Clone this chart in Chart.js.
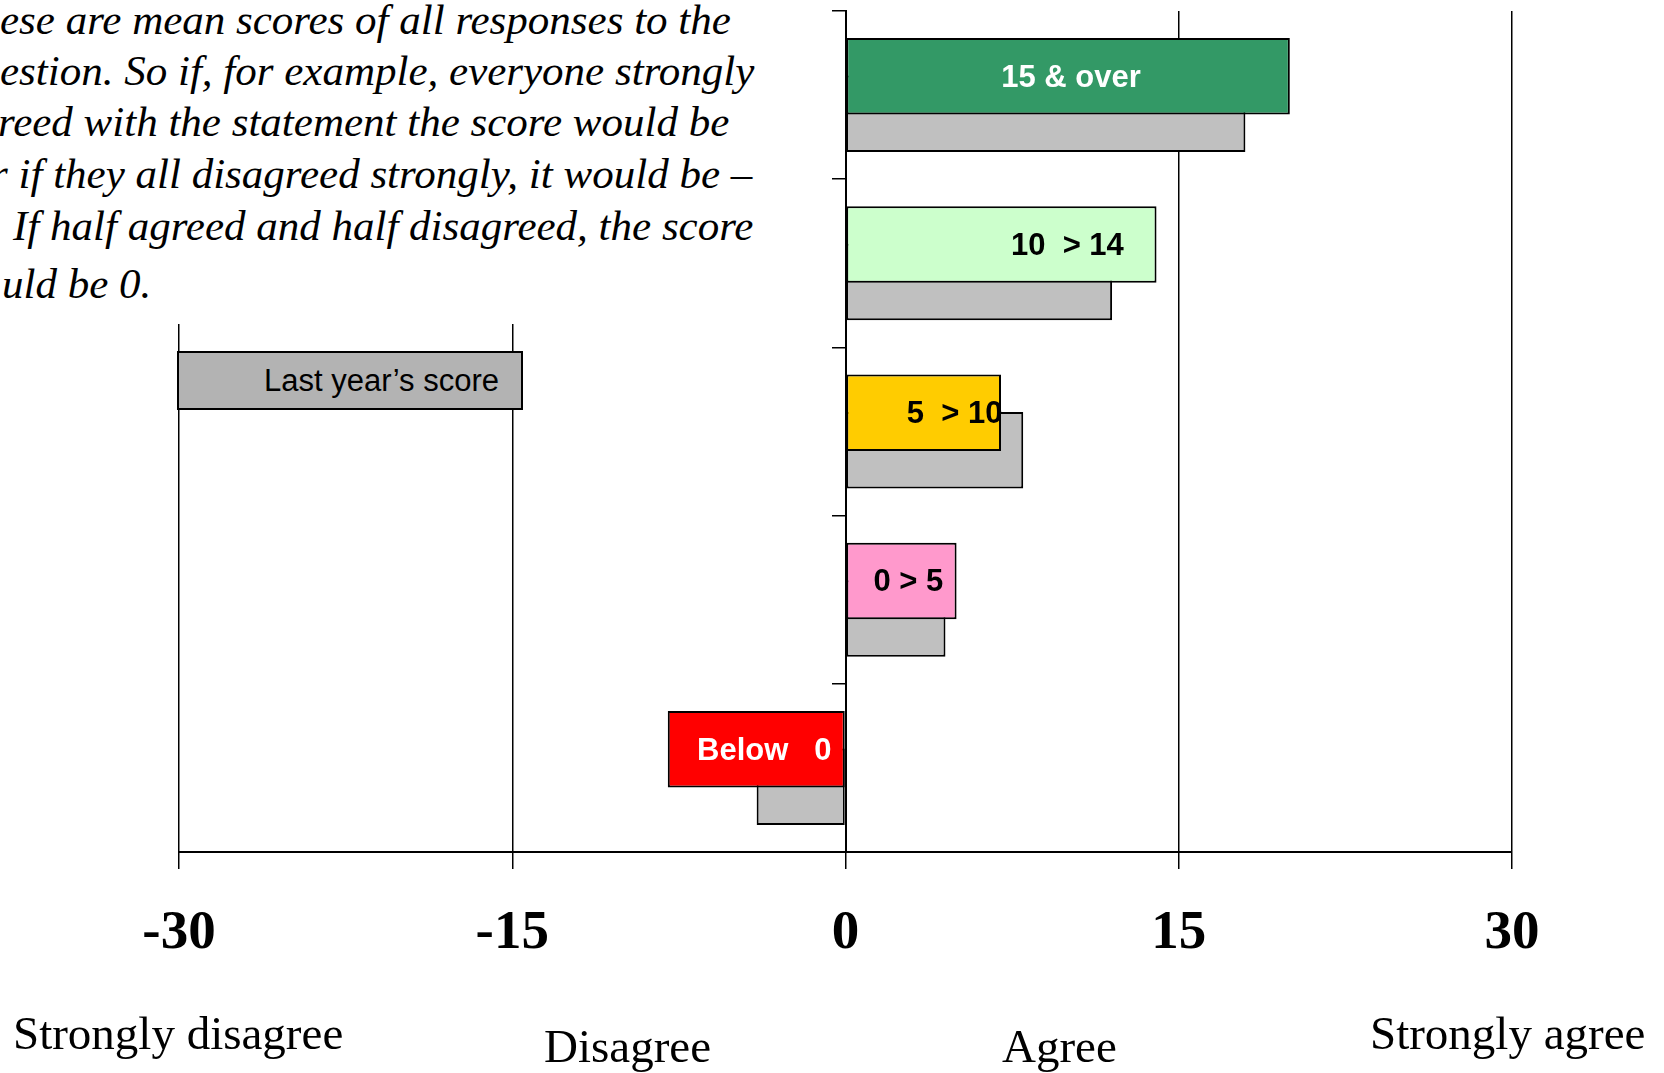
<!DOCTYPE html>
<html>
<head>
<meta charset="utf-8">
<title>Mean scores</title>
<script src="https://cdn.jsdelivr.net/npm/chart.js@4.4.1/dist/chart.umd.min.js"></script>
<style>
  body { margin: 0; background: #fff; }
  #wrap { position: relative; width: 1664px; height: 1073px; overflow: hidden; }
  #chart { position: absolute; left: 0; top: 0; }
  .note { position: absolute; left: 0; top: 0; width: 790px; height: 324px; background: #fff; overflow: hidden;
          font: italic 43px "Liberation Serif", "Times New Roman", serif; }
  .note div { position: absolute; white-space: pre; line-height: 1; }
  .legend { position: absolute; left: 177px; top: 351px; width: 346px; height: 59px; box-sizing: border-box;
            background: #b3b3b3; border: 2px solid #000; text-align: right; padding-right: 22px;
            font: 31px "Liberation Sans", Arial, sans-serif; line-height: 55px; }
  .word { position: absolute; white-space: pre; font: 47px "Liberation Serif", "Times New Roman", serif; line-height: 1; }
</style>
</head>
<body>
<div id="wrap">
  <canvas id="chart" width="1664" height="1073"></canvas>
  <div class="note" id="note"></div>
  <div class="legend" id="legend"></div>
</div>
<script>
// Chart data
const categories = ['15 & over', '10  > 14', '5  > 10', '0 > 5', 'Below   0'];
const thisYear = [20, 14, 7, 5, -8];
const lastYear = [18, 12, 8, 4.5, -4];
const lastYearLabel = 'Last year\u2019s score';
const scaleWords = ['Strongly disagree', 'Disagree', 'Agree', 'Strongly agree'];
const noteLines = [
  'ese are mean scores of all responses to the',
  'estion. So if, for example, everyone strongly',
  'reed with the statement the score would be',
  'r if they all disagreed strongly, it would be \u2013',
  'If half agreed and half disagreed, the score',
  'uld be 0.'
];

// Styles
const barColors = ['#339966', '#ccffcc', '#ffcc00', '#ff99cc', '#ff0000'];
const labelColors = ['#fff', '#000', '#000', '#000', '#fff'];
const labelShift = [3, 66, 31, 7, 8];
const notePos = [[0, -2], [0, 49], [-2, 100], [-9, 152], [13, 204], [2, 262]];
const wordPos = [[13, 1010], [544, 1023], [1002, 1023], [1370, 1010]];

// Text overlays
const note = document.getElementById('note');
noteLines.forEach((line, i) => {
  const d = document.createElement('div');
  d.textContent = line;
  d.style.left = notePos[i][0] + 'px';
  d.style.top = notePos[i][1] + 'px';
  note.appendChild(d);
});
document.getElementById('legend').textContent = lastYearLabel;
const wrap = document.getElementById('wrap');
scaleWords.forEach((w, i) => {
  const d = document.createElement('div');
  d.className = 'word';
  d.textContent = w;
  d.style.left = wordPos[i][0] + 'px';
  d.style.top = wordPos[i][1] + 'px';
  wrap.appendChild(d);
});

// Category names written inside the coloured bars
const barLabels = {
  id: 'barLabels',
  afterDatasetsDraw(chart) {
    const meta = chart.getDatasetMeta(0);
    const c = chart.ctx;
    c.save();
    c.font = 'bold 31px "Liberation Sans", Arial, sans-serif';
    c.textAlign = 'center';
    c.textBaseline = 'middle';
    meta.data.forEach((bar, i) => {
      c.fillStyle = labelColors[i];
      c.fillText(categories[i], (bar.x + bar.base) / 2 + labelShift[i], bar.y + 2);
    });
    c.restore();
  }
};

const ctx = document.getElementById('chart').getContext('2d');
new Chart(ctx, {
  type: 'bar',
  data: {
    labels: categories,
    datasets: [
      {
        label: 'This year',
        data: thisYear,
        backgroundColor: barColors,
        borderColor: '#000',
        borderWidth: 2,
        borderSkipped: false,
        categoryPercentage: 0.446,
        barPercentage: 2.04
      },
      {
        label: lastYearLabel,
        data: lastYear,
        backgroundColor: '#c0c0c0',
        borderColor: '#000',
        borderWidth: 2,
        borderSkipped: false,
        categoryPercentage: 0.446,
        barPercentage: 2.04
      }
    ]
  },
  options: {
    indexAxis: 'y',
    responsive: false,
    animation: false,
    devicePixelRatio: 1,
    layout: { padding: { left: 179, right: 152, top: 11, bottom: 74 } },
    plugins: { legend: { display: false }, tooltip: { enabled: false } },
    scales: {
      x: {
        min: -30,
        max: 30,
        ticks: {
          stepSize: 15,
          color: '#000',
          padding: 32,
          font: { family: '"Liberation Serif", "Times New Roman", serif', size: 55, weight: 'bold' }
        },
        grid: { color: '#000', lineWidth: 1.5, tickLength: 17 },
        border: { color: '#000', width: 2 }
      },
      y: {
        position: { x: 0 },
        ticks: { display: false },
        grid: { drawOnChartArea: false, color: '#000', lineWidth: 1.5, tickLength: 13, offset: true },
        border: { color: '#000', width: 2 }
      }
    }
  },
  plugins: [barLabels]
});
</script>
</body>
</html>
